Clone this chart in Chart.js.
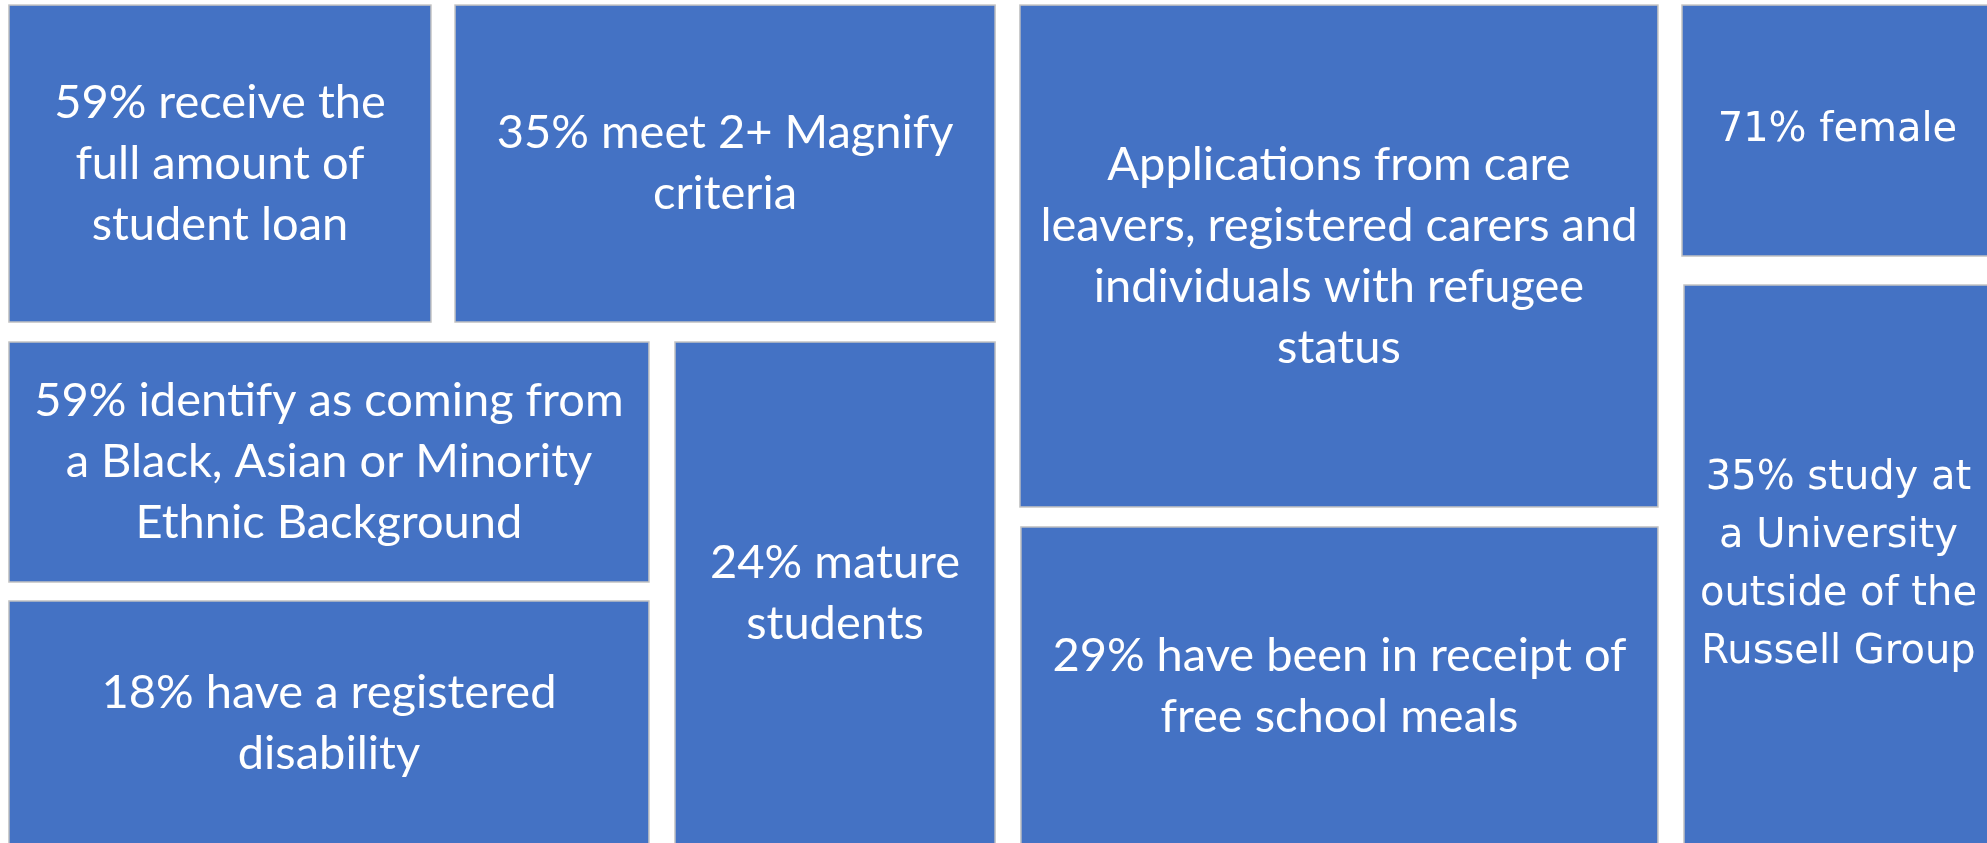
<!DOCTYPE html>
<html>
<head>
<meta charset="utf-8">
<script src="https://cdn.jsdelivr.net/npm/chart.js@4/dist/chart.umd.min.js"></script>
<style>
    html, body { margin: 0; padding: 0; background: #ffffff; overflow: hidden; }
    #wrap { width: 1987px; height: 843px; }
</style>
</head>
<body>
<div id="wrap"><canvas id="myChart"></canvas></div>
<script>
// box labels (one entry per line)
const labels = [
    ['59% receive the', 'full amount of', 'student loan'],
    ['35% meet 2+ Magnify', 'criteria'],
    ['59% identify as coming from', 'a Black, Asian or Minority', 'Ethnic Background'],
    ['18% have a registered', 'disability'],
    ['24% mature', 'students'],
    ['Applications from care', 'leavers, registered carers and', 'individuals with refugee', 'status'],
    ['29% have been in receipt of', 'free school meals'],
    ['71% female'],
    ['35% study at', 'a University', 'outside of the', 'Russell Group']
];

// box extents, in % of the treemap (x from left, y from top)
const xStart = [0.45, 22.9, 0.45, 0.45, 33.97, 51.33, 51.38, 84.65, 84.75];
const xEnd   = [21.69, 50.08, 32.66, 32.66, 50.08, 83.44, 83.44, 100.3, 100.3];
const yStart = [0.6, 0.6, 40.57, 71.29, 40.57, 0.6, 62.51, 0.6, 33.81];
const yEnd   = [38.2, 38.2, 69.04, 100.3, 100.3, 60.14, 100.3, 30.37, 100.3];

// the two right hand boxes use a wider font
const wideFontBoxes = [7, 8];

const treemapBoxes = {
    id: 'treemapBoxes',
    beforeDatasetsDraw(chart) {
        const ctx = chart.ctx;
        const x = chart.scales.x;
        const y = chart.scales.y;

        ctx.save();
        labels.forEach((lines, i) => {
            var left = x.getPixelForValue(xStart[i]);
            var right = x.getPixelForValue(xEnd[i]);
            var top = y.getPixelForValue(yStart[i]);
            var bottom = y.getPixelForValue(yEnd[i]);

            ctx.fillStyle = '#4472C4';
            ctx.fillRect(left, top, right - left, bottom - top);
            ctx.strokeStyle = '#C3C3C3';
            ctx.lineWidth = 1.5;
            ctx.strokeRect(left, top, right - left, bottom - top);

            var wide = wideFontBoxes.includes(i);
            var lineH = wide ? 58 : 61;
            ctx.font = wide ? '40px "DejaVu Sans"' : '47px Lato';
            ctx.fillStyle = '#ffffff';
            ctx.textAlign = 'center';
            ctx.textBaseline = 'middle';

            var cx = (left + right) / 2;
            var cy = (top + bottom) / 2;
            var first = cy - (lines.length - 1) * lineH / 2;
            lines.forEach((line, j) => {
                ctx.fillText(line, cx, first + j * lineH);
            });
        });
        ctx.restore();
    }
};

var ctx = document.getElementById('myChart').getContext('2d');
window.myChart = new Chart(ctx, {
    type: 'scatter',
    data: {
        datasets: [{
            label: 'boxes',
            data: labels.map((l, i) => ({ x: (xStart[i] + xEnd[i]) / 2, y: (yStart[i] + yEnd[i]) / 2 })),
            pointRadius: 0
        }]
    },
    options: {
        responsive: true,
        maintainAspectRatio: false,
        animation: false,
        layout: { padding: 0 },
        plugins: {
            legend: { display: false },
            tooltip: { enabled: false }
        },
        scales: {
            x: { type: 'linear', min: 0, max: 100, display: false },
            y: { type: 'linear', min: 0, max: 100, reverse: true, display: false }
        }
    },
    plugins: [treemapBoxes]
});
</script>
</body>
</html>
